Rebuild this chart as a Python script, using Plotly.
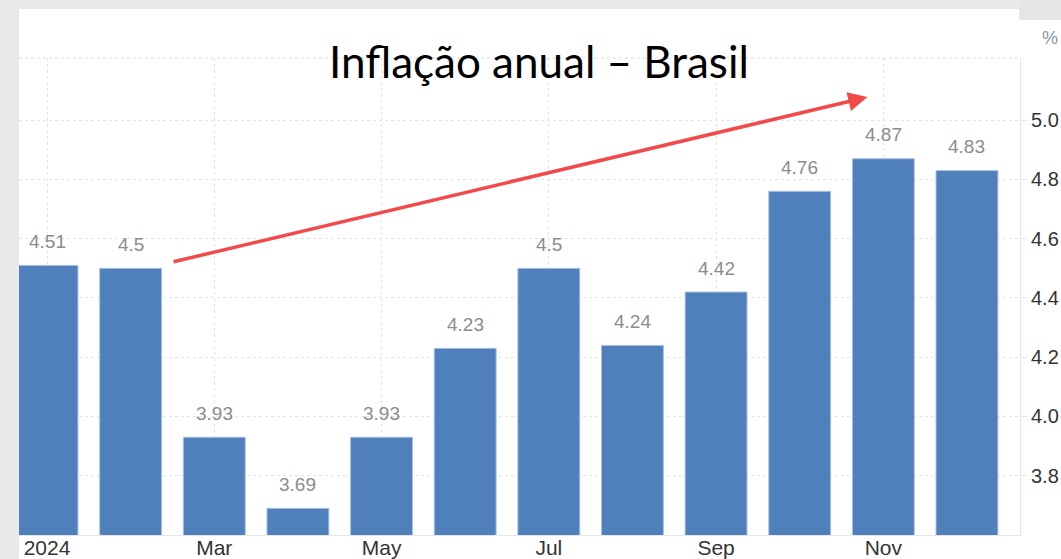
import plotly.graph_objects as go

months = ["Jan", "Feb", "Mar", "Apr", "May", "Jun", "Jul", "Aug", "Sep", "Oct", "Nov", "Dec"]
values = [4.51, 4.50, 3.93, 3.69, 3.93, 4.23, 4.50, 4.24, 4.42, 4.76, 4.87, 4.83]
value_labels = ["4.51", "4.5", "3.93", "3.69", "3.93", "4.23", "4.5", "4.24", "4.42", "4.76", "4.87", "4.83"]
tick_months = ["Jan", "Mar", "May", "Jul", "Sep", "Nov"]
tick_labels = ["2024", "Mar", "May", "Jul", "Sep", "Nov"]
y_ticks = [3.8, 4.0, 4.2, 4.4, 4.6, 4.8, 5.0]
title_text = "Inflação anual – Brasil"

W, H = 1061, 559
L, R, T, B = 19, 41, 58, 24
pw, ph = W - L - R, H - T - B


def px_x(px):
    return (px - L) / pw


def px_y(py):
    return (H - B - py) / ph


fig = go.Figure()
fig.add_trace(go.Bar(
    x=months, y=values,
    marker=dict(color="#4f80bb", line=dict(color="#a9c0dd", width=1)),
    hoverinfo="skip",
))

annotations = []
for m, v, t in zip(months, values, value_labels):
    annotations.append(dict(
        x=m, y=v, xref="x", yref="y", text=t, showarrow=False,
        yanchor="middle", yshift=24,
        font=dict(family="Liberation Sans, Arial", size=19, color="#8c8c8c"),
    ))

# red arrow
annotations.append(dict(
    x=9.81, y=5.078, ax=1.495, ay=4.521, xref="x", yref="y", axref="x", ayref="y",
    text="", showarrow=True, arrowhead=2, arrowsize=1.1, arrowwidth=3.5,
    arrowcolor="#f24a4a",
))
# title
annotations.append(dict(
    x=px_x(539), y=px_y(61), xref="paper", yref="paper", text=title_text,
    showarrow=False, xanchor="center", yanchor="middle",
    font=dict(family="Lato", size=44, color="#000000"),
))
# percent unit
annotations.append(dict(
    x=px_x(1050), y=px_y(38), xref="paper", yref="paper", text="%",
    showarrow=False, xanchor="center", yanchor="middle",
    font=dict(family="Liberation Sans, Arial", size=18, color="#8796b0"),
))

shapes = [
    # white panel
    dict(type="rect", xref="paper", yref="paper", layer="below",
         x0=px_x(19), x1=px_x(1061), y0=px_y(559), y1=px_y(9),
         fillcolor="#ffffff", line=dict(width=0)),
    # grey corner top-right
    dict(type="rect", xref="paper", yref="paper", layer="below",
         x0=px_x(1019), x1=px_x(1061), y0=px_y(20), y1=px_y(0),
         fillcolor="#e6e6e6", line=dict(width=0)),
    # top dotted border line
    dict(type="line", xref="paper", yref="paper", x0=0, x1=1, y0=1, y1=1,
         line=dict(color="#dcdcdc", width=1, dash="dot")),
]

fig.update_layout(
    width=W, height=H,
    margin=dict(l=L, r=R, t=T, b=B, pad=0, autoexpand=False),
    paper_bgcolor="#e9e9e9",
    plot_bgcolor="#ffffff",
    showlegend=False,
    bargap=0.26,
    annotations=annotations,
    shapes=shapes,
    xaxis=dict(
        type="category", categoryorder="array", categoryarray=months,
        range=[-0.335, 11.634], automargin=False,
        tickmode="array", tickvals=tick_months, ticktext=tick_labels,
        showgrid=True, gridcolor="#e4e4e4", griddash="dot", gridwidth=1,
        showline=True, linecolor="#e6e6e6", linewidth=1,
        ticks="", ticklabelstandoff=-6,
        tickfont=dict(family="Liberation Sans, Arial", size=21, color="#333333"),
        fixedrange=True, zeroline=False,
    ),
    yaxis=dict(
        side="right", range=[3.60, 5.21], automargin=False,
        tickmode="array", tickvals=y_ticks, ticktext=[f"{v:.1f}" for v in y_ticks],
        showgrid=True, gridcolor="#e4e4e4", griddash="dot", gridwidth=1,
        showline=True, linecolor="#e6e6e6", linewidth=1,
        ticks="outside", ticklen=6, tickcolor="#e6e6e6",
        tickfont=dict(family="Liberation Sans, Arial", size=20, color="#333333"),
        zeroline=False, fixedrange=True,
    ),
)

fig.write_html(
    "out.html",
    config={"displayModeBar": False},
    post_script="document.body.style.margin='0';document.body.style.overflow='hidden';",
)
